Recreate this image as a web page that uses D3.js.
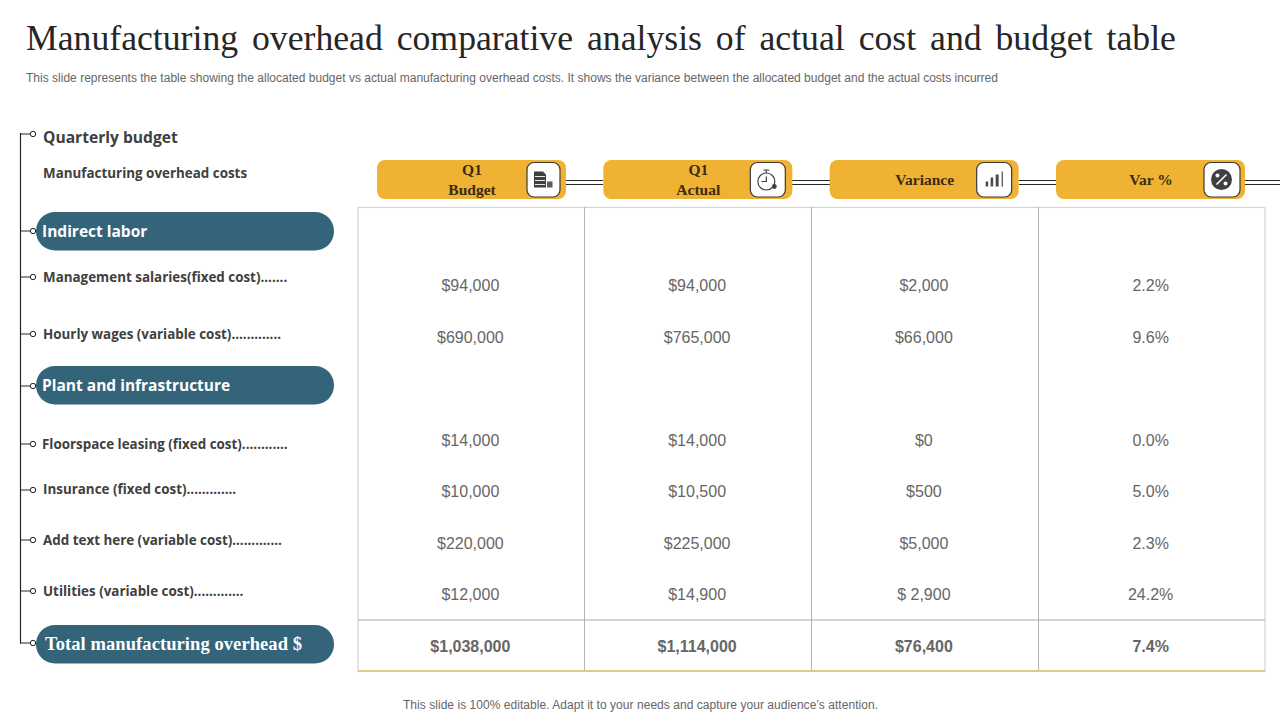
<!DOCTYPE html>
<html>
<head>
<meta charset="utf-8">
<script src="https://cdnjs.cloudflare.com/ajax/libs/d3/7.8.5/d3.min.js"></script>
<style>
  html, body { margin: 0; padding: 0; background: #fff; }
  svg { display: block; }
  .side { font-family: "Open Sans"; font-weight: 700; fill: #404040; font-size: 13.4px; }
  .cell { font-family: "Liberation Sans"; fill: #666666; font-size: 16px; text-anchor: middle; }
  .head { font-family: "Liberation Serif"; font-weight: 700; fill: #3a2c12; font-size: 15.5px; text-anchor: middle; }
</style>
</head>
<body>
<div id="my_dataviz"></div>
<script>
// Data
var title = "Manufacturing overhead comparative analysis of actual cost and budget table";
var subtitle = "This slide represents the table showing the allocated budget vs actual manufacturing overhead costs. It shows the variance between the allocated budget and the actual costs incurred";
var footer = "This slide is 100% editable. Adapt it to your needs and capture your audience\u2019s attention.";
var columns = [["Q1", "Budget"], ["Q1", "Actual"], ["Variance"], ["Var %"]];
var rowLabels = ["Indirect labor", "Management salaries(fixed cost).......", "Hourly wages (variable cost).............",
  "Plant and infrastructure", "Floorspace leasing (fixed cost)............", "Insurance (fixed cost).............",
  "Add text here (variable cost).............", "Utilities (variable cost).............", "Total manufacturing overhead $"];
var budget = ["", "$94,000", "$690,000", "", "$14,000", "$10,000", "$220,000", "$12,000", "$1,038,000"];
var actual = ["", "$94,000", "$765,000", "", "$14,000", "$10,500", "$225,000", "$14,900", "$1,114,000"];
var variance = ["", "$2,000", "$66,000", "", "$0", "$500", "$5,000", "$ 2,900", "$76,400"];
var varPct = ["", "2.2%", "9.6%", "", "0.0%", "5.0%", "2.3%", "24.2%", "7.4%"];
var pillRows = [0, 3, 8];

var width = 1280, height = 720;
var navy = "#34647a", gold = "#f0b232", ink = "#262626";

var svg = d3.select("#my_dataviz").append("svg")
  .attr("width", width).attr("height", height);

// Title block
svg.append("text").attr("x", 26).attr("y", 50)
  .attr("font-family", "Liberation Serif").attr("font-size", 35.7).attr("fill", "#262626")
  .attr("word-spacing", 5)
  .text(title);
svg.append("text").attr("x", 26).attr("y", 82)
  .attr("font-family", "Liberation Sans").attr("font-size", 12).attr("fill", "#666666")
  .attr("textLength", 972).attr("lengthAdjust", "spacing")
  .text(subtitle);
svg.append("text").attr("x", 403).attr("y", 709)
  .attr("font-family", "Liberation Sans").attr("font-size", 12).attr("fill", "#666666")
  .attr("textLength", 475).attr("lengthAdjust", "spacing")
  .text(footer);

// Scales
var x = d3.scaleBand().domain(d3.range(4)).range([358, 1265]);
var y = d3.scalePoint().domain(d3.range(9)).range([234, 646]);
var headX = d3.scalePoint().domain(d3.range(4)).range([377, 1056]);
var pillW = 189;

// Table frame
var grid = svg.append("g").attr("fill", "none");
grid.append("rect").attr("x", 358).attr("y", 207.5).attr("width", 907).attr("height", 464)
  .attr("stroke", "#d4d4d4").attr("stroke-width", 1.2);
grid.selectAll(".vline").data([1, 2, 3]).enter().append("line")
  .attr("x1", function(d) { return Math.floor(x(d)) + 0.5; }).attr("x2", function(d) { return Math.floor(x(d)) + 0.5; })
  .attr("y1", 207).attr("y2", 671).attr("stroke", "#b4b4b4").attr("stroke-width", 1);
grid.append("line").attr("x1", 358).attr("x2", 1265).attr("y1", 620).attr("y2", 620)
  .attr("stroke", "#a8a8a8").attr("stroke-width", 1.2);
grid.append("line").attr("x1", 358).attr("x2", 1265).attr("y1", 671).attr("y2", 671)
  .attr("stroke", "#e0c98c").attr("stroke-width", 2);

// Table cells
[budget, actual, variance, varPct].forEach(function(col, c) {
  svg.append("g").selectAll("text").data(col).enter().append("text")
    .attr("class", "cell")
    .attr("x", x(c) + x.bandwidth() / 2 - 1)
    .attr("y", function(d, i) { return y(i) + 5.5; })
    .attr("font-weight", function(d, i) { return i == 8 ? 700 : 400; })
    .text(function(d) { return d; });
});

// Connectors behind the header pills
[[566, 603], [792, 830], [1019, 1056], [1245, 1280]].forEach(function(s) {
  [180.5, 184.5].forEach(function(ly) {
    svg.append("line").attr("x1", s[0]).attr("x2", s[1]).attr("y1", ly).attr("y2", ly)
      .attr("stroke", ink).attr("stroke-width", 1);
  });
});

// Header pills
var head = svg.selectAll(".headPill").data(columns).enter().append("g")
  .attr("class", "headPill")
  .attr("transform", function(d, i) { return "translate(" + headX(i) + ",160)"; });
head.append("rect").attr("width", pillW).attr("height", 39).attr("rx", 8).attr("fill", gold);
head.each(function(d) {
  var g = d3.select(this);
  d.forEach(function(line, i) {
    g.append("text").attr("class", "head")
      .attr("x", 95)
      .attr("y", d.length > 1 ? 15 + i * 20 : 25)
      .text(line);
  });
});
var boxX = [150, 147, 147, 148];
var boxW = [33, 35, 35, 36];
var icons = head.append("g")
  .attr("transform", function(d, i) { return "translate(" + boxX[i] + ",2.5)"; });
icons.append("rect")
  .attr("width", function(d, i) { return boxW[i]; }).attr("height", 34.5).attr("rx", 7)
  .attr("fill", "#fff").attr("stroke", "#3a3a3a").attr("stroke-width", 1.2);

// Icon 1: document with coins
var ic0 = d3.select(icons.nodes()[0]);
ic0.append("path").attr("d", "M7 9h9l3 3v13H7z").attr("fill", "#404040");
[14, 18, 22].forEach(function(ly) {
  ic0.append("line").attr("x1", 8).attr("x2", 18).attr("y1", ly).attr("y2", ly)
    .attr("stroke", "#fff").attr("stroke-width", 0.9);
});
ic0.append("rect").attr("x", 20).attr("y", 19).attr("width", 5.5).attr("height", 6).attr("fill", "#5a5a5a");

// Icon 2: stopwatch
var ic1 = d3.select(icons.nodes()[1]);
ic1.append("circle").attr("cx", 16).attr("cy", 19).attr("r", 8.5)
  .attr("fill", "none").attr("stroke", "#404040").attr("stroke-width", 1.2);
ic1.append("path").attr("d", "M13 7.5h6M16 7.5v3M16 14v5h-5")
  .attr("fill", "none").attr("stroke", "#404040").attr("stroke-width", 1.2);
ic1.append("circle").attr("cx", 24).attr("cy", 24).attr("r", 2.4).attr("fill", "#404040");

// Icon 3: bars
var ic2 = d3.select(icons.nodes()[2]);
[[9, 19, 2.5, 5], [14, 15, 2.5, 9], [19, 12, 3, 12], [25, 9, 1.2, 15]].forEach(function(b) {
  ic2.append("rect").attr("x", b[0]).attr("y", b[1]).attr("width", b[2]).attr("height", b[3]).attr("fill", "#4a4a4a");
});

// Icon 4: percent badge
var ic3 = d3.select(icons.nodes()[3]);
ic3.append("circle").attr("cx", 17.5).attr("cy", 17).attr("r", 10.5).attr("fill", "#404040");
ic3.append("path").attr("d", "M12.5 22L22.5 12").attr("stroke", "#fff").attr("stroke-width", 1.6);
ic3.append("circle").attr("cx", 13.5).attr("cy", 13).attr("r", 2).attr("fill", "#fff");
ic3.append("circle").attr("cx", 21.5).attr("cy", 21).attr("r", 2).attr("fill", "#fff");

// Left tree
var sideY = [231, 277, 334, 385, 444, 489, 540, 591, 644];
var treeY = [134].concat([231, 277, 334, 386, 444, 490, 540, 591, 643]);
var tree = svg.append("g");
tree.append("line").attr("x1", 20.5).attr("x2", 20.5).attr("y1", 133).attr("y2", 643.5)
  .attr("stroke", ink).attr("stroke-width", 1.2);
tree.selectAll(".tick").data(treeY).enter().append("line")
  .attr("x1", 20).attr("x2", 30).attr("y1", function(d) { return d; }).attr("y2", function(d) { return d; })
  .attr("stroke", ink).attr("stroke-width", 1);
tree.selectAll("circle").data(treeY).enter().append("circle")
  .attr("cx", 33).attr("cy", function(d) { return d; }).attr("r", 2.7)
  .attr("fill", "#fff").attr("stroke", ink).attr("stroke-width", 1);

// Left pills
svg.selectAll(".sidePill").data(pillRows).enter().append("rect")
  .attr("x", 36).attr("width", 298).attr("height", 38.5).attr("rx", 19)
  .attr("y", function(d) { return sideY[d] - 19; })
  .attr("fill", navy);

svg.append("text").attr("class", "side").attr("x", 43).attr("y", 142.5)
  .style("font-size", "15.6px")
  .text("Quarterly budget");
svg.append("text").attr("class", "side").attr("x", 43).attr("y", 177.5)
  .text("Manufacturing overhead costs");

svg.selectAll(".rowLabel").data(rowLabels).enter().append("text")
  .attr("class", "side")
  .attr("x", function(d, i) { return i == 8 ? 45 : (i == 0 || i == 3 || i == 4 ? 42 : 43); })
  .attr("y", function(d, i) { return sideY[i] + (pillRows.indexOf(i) >= 0 ? 6 : 5); })
  .attr("textLength", function(d, i) { return i == 8 ? 257 : null; })
  .style("fill", function(d, i) { return pillRows.indexOf(i) >= 0 ? "#fff" : "#404040"; })
  .style("font-size", function(d, i) { return i == 8 ? "18.5px" : (pillRows.indexOf(i) >= 0 ? "15.5px" : "13.4px"); })
  .style("font-family", function(d, i) { return i == 8 ? "Liberation Serif" : null; })
  .text(function(d) { return d; });
</script>
</body>
</html>
